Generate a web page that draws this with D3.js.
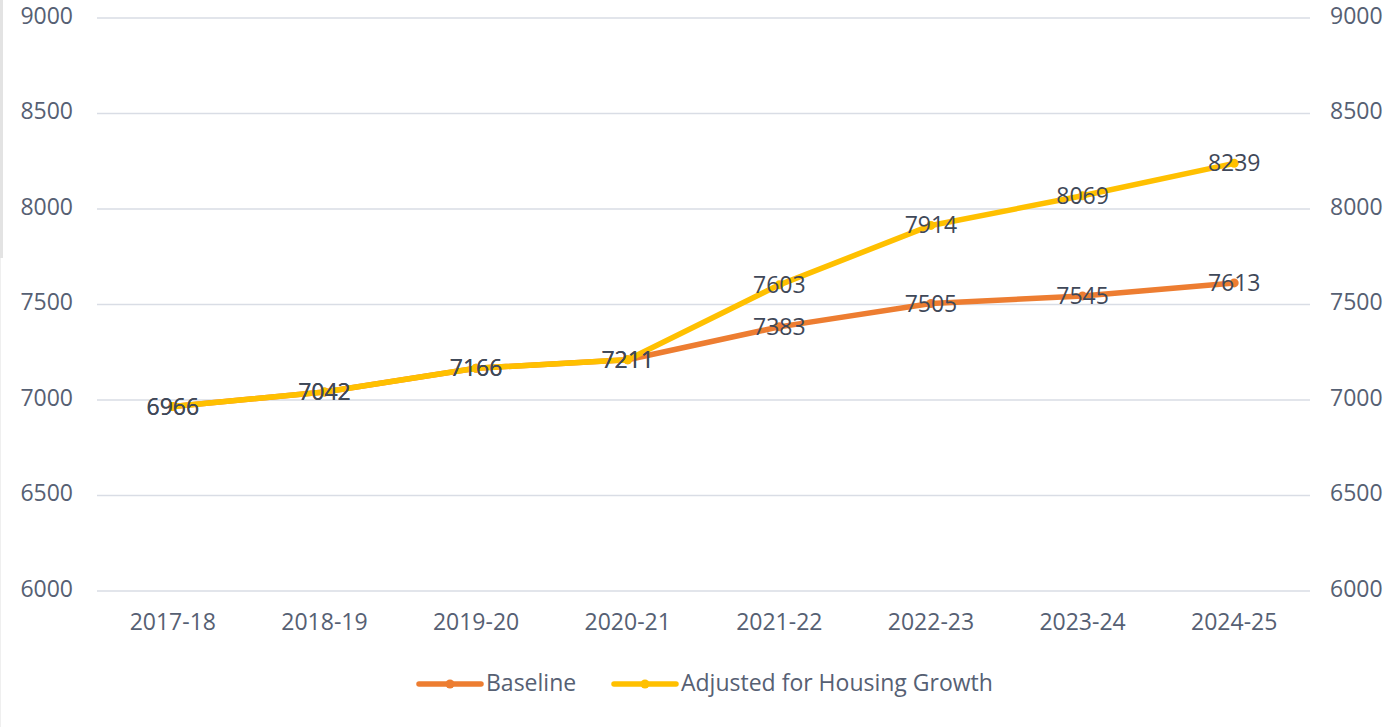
<!DOCTYPE html>
<html>
<head>
<meta charset="utf-8">
<script src="https://cdn.jsdelivr.net/npm/d3@7"></script>
<style>
  html, body { margin: 0; padding: 0; background: #fff; }
  svg { display: block; }
  text { font-family: "Open Sans", "Noto Sans", sans-serif; }
</style>
</head>
<body>
<svg id="chart" width="1387" height="727"></svg>
<script>
const categories = ["2017-18", "2018-19", "2019-20", "2020-21", "2021-22", "2022-23", "2023-24", "2024-25"];
const baseline = [6966, 7042, 7166, 7211, 7383, 7505, 7545, 7613];
const adjusted = [6966, 7042, 7166, 7211, 7603, 7914, 8069, 8239];
const yTicks = [6000, 6500, 7000, 7500, 8000, 8500, 9000];
const seriesNames = ["Baseline", "Adjusted for Housing Growth"];
const seriesColors = ["#ED7D31", "#FFC000"];

(function () {
const svg = d3.select("#chart");
const plotLeft = 97, plotRight = 1310, plotTop = 18, plotBottom = 591;

// left border decoration
svg.append("rect").attr("x", 0).attr("y", 0).attr("width", 3).attr("height", 258).attr("fill", "#e3e3e3");
svg.append("rect").attr("x", 0).attr("y", 258).attr("width", 1).attr("height", 469).attr("fill", "#efefef");

const x = d3.scaleBand().domain(categories).range([plotLeft, plotRight]).padding(0);
const y = d3.scaleLinear().domain([6000, 9000]).range([plotBottom, plotTop]);

const fontSize = 23;
const axisColor = "#566073";

// gridlines
svg.append("g").selectAll("line").data(yTicks).join("line")
  .attr("x1", plotLeft).attr("x2", plotRight)
  .attr("y1", d => y(d)).attr("y2", d => y(d))
  .attr("stroke", "#d9dde5").attr("stroke-width", 1.5);

// left axis labels
const yAxisL = d3.axisLeft(y).tickValues(yTicks).tickSize(0).tickPadding(0).tickFormat(d3.format("d"));
const gL = svg.append("g").attr("transform", "translate(73,0)").call(yAxisL);
gL.select(".domain").remove();
gL.selectAll("text").attr("font-size", fontSize).attr("fill", axisColor)
  .attr("font-family", '"Open Sans", sans-serif').attr("dy", "0.32em").attr("y", -2);

// right axis labels
const yAxisR = d3.axisRight(y).tickValues(yTicks).tickSize(0).tickPadding(0).tickFormat(d3.format("d"));
const gR = svg.append("g").attr("transform", "translate(1330,0)").call(yAxisR);
gR.select(".domain").remove();
gR.selectAll("text").attr("font-size", fontSize).attr("fill", axisColor)
  .attr("font-family", '"Open Sans", sans-serif').attr("dy", "0.32em").attr("y", -2);

// x axis labels
const xAxis = d3.axisBottom(x).tickSize(0).tickPadding(0);
const gX = svg.append("g").attr("transform", `translate(0,${plotBottom})`).call(xAxis);
gX.select(".domain").remove();
gX.selectAll("text").attr("font-size", fontSize).attr("fill", axisColor)
  .attr("font-family", '"Open Sans", sans-serif').attr("dy", "0.32em").attr("y", 32);

const cx = c => x(c) + x.bandwidth() / 2;
const line = d3.line().x((d, i) => cx(categories[i])).y(d => y(d));

const allSeries = [baseline, adjusted];
allSeries.forEach((vals, si) => {
  svg.append("path").datum(vals)
    .attr("d", line).attr("fill", "none")
    .attr("stroke", seriesColors[si]).attr("stroke-width", 5.5)
    .attr("stroke-linejoin", "round").attr("stroke-linecap", "round");
  svg.append("g").selectAll("circle").data(vals).join("circle")
    .attr("cx", (d, i) => cx(categories[i])).attr("cy", d => y(d))
    .attr("r", 4.5).attr("fill", seriesColors[si]);
});

// data labels
allSeries.forEach((vals, si) => {
  svg.append("g").selectAll("text").data(vals).join("text")
    .attr("x", (d, i) => cx(categories[i])).attr("y", d => y(d))
    .attr("text-anchor", "middle").attr("dy", "0.35em")
    .attr("font-size", fontSize).attr("fill", "#3f4858")
    .text(d => d);
});

// legend
const legendY = 684;
const legendItems = [
  { name: seriesNames[0], color: seriesColors[0], x0: 419, tx: 486 },
  { name: seriesNames[1], color: seriesColors[1], x0: 614, tx: 681 }
];
legendItems.forEach(it => {
  svg.append("line").attr("x1", it.x0).attr("x2", it.x0 + 62)
    .attr("y1", legendY).attr("y2", legendY)
    .attr("stroke", it.color).attr("stroke-width", 5.5).attr("stroke-linecap", "round");
  svg.append("circle").attr("cx", it.x0 + 31).attr("cy", legendY).attr("r", 4.5).attr("fill", it.color);
  svg.append("text").attr("x", it.tx).attr("y", legendY).attr("dy", "0.32em")
    .attr("font-size", fontSize).attr("fill", axisColor).text(it.name);
});
})();
</script>
</body>
</html>
